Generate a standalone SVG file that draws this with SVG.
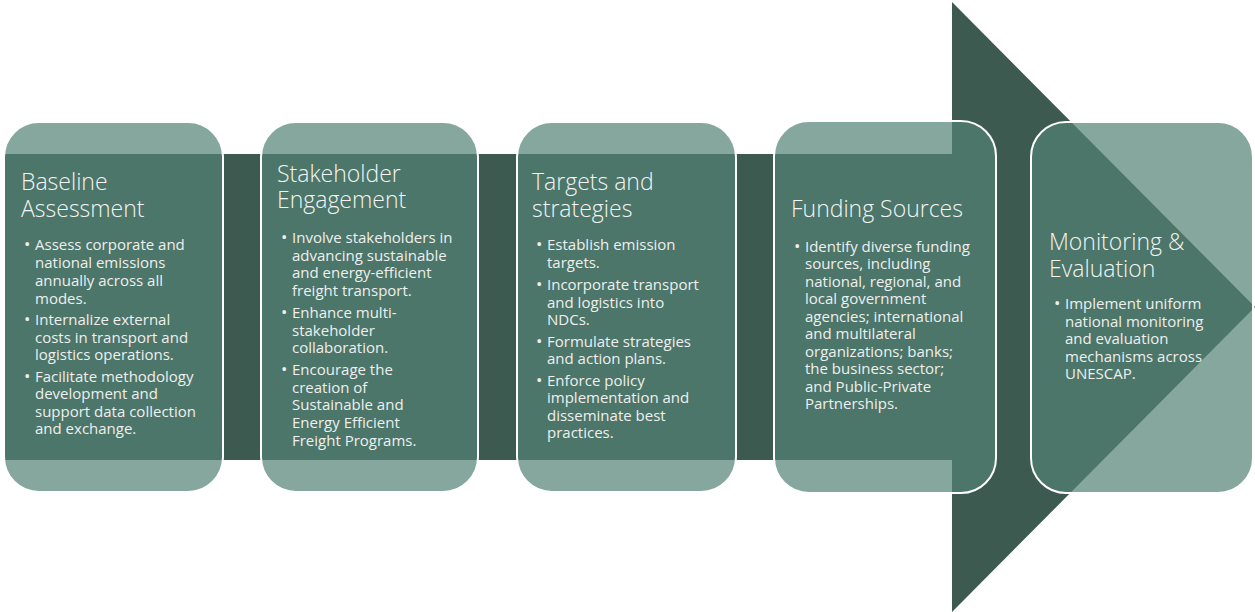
<svg xmlns="http://www.w3.org/2000/svg" width="1255" height="612" viewBox="0 0 1255 612">
  <style>
    .box { fill: #538174; fill-opacity: 0.7; stroke: #ffffff; stroke-width: 2; }
    .title { font-family: "Open Sans", "Liberation Sans", sans-serif; font-size: 23px; font-weight: 300; fill: #f4f4f4; }
    .body { font-family: "Open Sans", "Liberation Sans", sans-serif; font-size: 15px; fill: #efefef; }
    .dot { font-family: "Open Sans", "Liberation Sans", sans-serif; font-size: 17px; fill: #efefef; }
  </style>
  <rect width="1255" height="612" fill="#ffffff"/>

  <!-- Process arrow: shaft behind the steps and the arrowhead -->
  <g id="connectors" fill="#3d5a50">
    <rect x="4" y="154" width="950" height="306"/>
    <polygon points="952,2 1255,307 952,612"/>
  </g>

  <g id="step-baseline">
    <rect class="box" x="4" y="122" width="219" height="370" rx="35"/>
    <text class="title" x="21" y="190">Baseline</text>
    <text class="title" x="21" y="217">Assessment</text>
    <text class="dot" x="24" y="250">•</text>
    <text class="body" x="35" y="250">Assess corporate and</text>
    <text class="body" x="35" y="268">national emissions</text>
    <text class="body" x="35" y="286">annually across all</text>
    <text class="body" x="35" y="304">modes.</text>
    <text class="dot" x="24" y="325">•</text>
    <text class="body" x="35" y="325">Internalize external</text>
    <text class="body" x="35" y="343">costs in transport and</text>
    <text class="body" x="35" y="360">logistics operations.</text>
    <text class="dot" x="24" y="382">•</text>
    <text class="body" x="35" y="382">Facilitate methodology</text>
    <text class="body" x="35" y="399">development and</text>
    <text class="body" x="35" y="417">support data collection</text>
    <text class="body" x="35" y="434">and exchange.</text>
  </g>

  <g id="step-stakeholder">
    <rect class="box" x="261" y="122" width="217" height="370" rx="35"/>
    <text class="title" x="277" y="182">Stakeholder</text>
    <text class="title" x="277" y="208">Engagement</text>
    <text class="dot" x="281" y="243">•</text>
    <text class="body" x="292" y="243">Involve stakeholders in</text>
    <text class="body" x="292" y="261">advancing sustainable</text>
    <text class="body" x="292" y="278">and energy-efficient</text>
    <text class="body" x="292" y="296">freight transport.</text>
    <text class="dot" x="281" y="318">•</text>
    <text class="body" x="292" y="318">Enhance multi-</text>
    <text class="body" x="292" y="336">stakeholder</text>
    <text class="body" x="292" y="353">collaboration.</text>
    <text class="dot" x="281" y="375">•</text>
    <text class="body" x="292" y="375">Encourage the</text>
    <text class="body" x="292" y="393">creation of</text>
    <text class="body" x="292" y="410">Sustainable and</text>
    <text class="body" x="292" y="428">Energy Efficient</text>
    <text class="body" x="292" y="446">Freight Programs.</text>
  </g>

  <g id="step-targets">
    <rect class="box" x="517" y="122" width="219" height="370" rx="35"/>
    <text class="title" x="532" y="190">Targets and</text>
    <text class="title" x="532" y="217">strategies</text>
    <text class="dot" x="536" y="250">•</text>
    <text class="body" x="547" y="250">Establish emission</text>
    <text class="body" x="547" y="268">targets.</text>
    <text class="dot" x="536" y="290">•</text>
    <text class="body" x="547" y="290">Incorporate transport</text>
    <text class="body" x="547" y="308">and logistics into</text>
    <text class="body" x="547" y="325">NDCs.</text>
    <text class="dot" x="536" y="347">•</text>
    <text class="body" x="547" y="347">Formulate strategies</text>
    <text class="body" x="547" y="364">and action plans.</text>
    <text class="dot" x="536" y="386">•</text>
    <text class="body" x="547" y="386">Enforce policy</text>
    <text class="body" x="547" y="403">implementation and</text>
    <text class="body" x="547" y="421">disseminate best</text>
    <text class="body" x="547" y="438">practices.</text>
  </g>

  <g id="step-funding">
    <rect class="box" x="774" y="121" width="222" height="372" rx="35"/>
    <text class="title" x="791" y="217">Funding Sources</text>
    <text class="dot" x="794" y="252">•</text>
    <text class="body" x="805" y="252">Identify diverse funding</text>
    <text class="body" x="805" y="269">sources, including</text>
    <text class="body" x="805" y="287">national, regional, and</text>
    <text class="body" x="805" y="304">local government</text>
    <text class="body" x="805" y="322">agencies; international</text>
    <text class="body" x="805" y="339">and multilateral</text>
    <text class="body" x="805" y="357">organizations; banks;</text>
    <text class="body" x="805" y="374">the business sector;</text>
    <text class="body" x="805" y="392">and Public-Private</text>
    <text class="body" x="805" y="409">Partnerships.</text>
  </g>

  <g id="step-monitoring">
    <rect class="box" x="1031" y="122" width="222" height="371" rx="35"/>
    <text class="title" x="1049" y="250">Monitoring &amp;</text>
    <text class="title" x="1049" y="277">Evaluation</text>
    <text class="dot" x="1054" y="309">•</text>
    <text class="body" x="1065" y="309">Implement uniform</text>
    <text class="body" x="1065" y="327">national monitoring</text>
    <text class="body" x="1065" y="344">and evaluation</text>
    <text class="body" x="1065" y="362">mechanisms across</text>
    <text class="body" x="1065" y="379">UNESCAP.</text>
  </g>
</svg>
